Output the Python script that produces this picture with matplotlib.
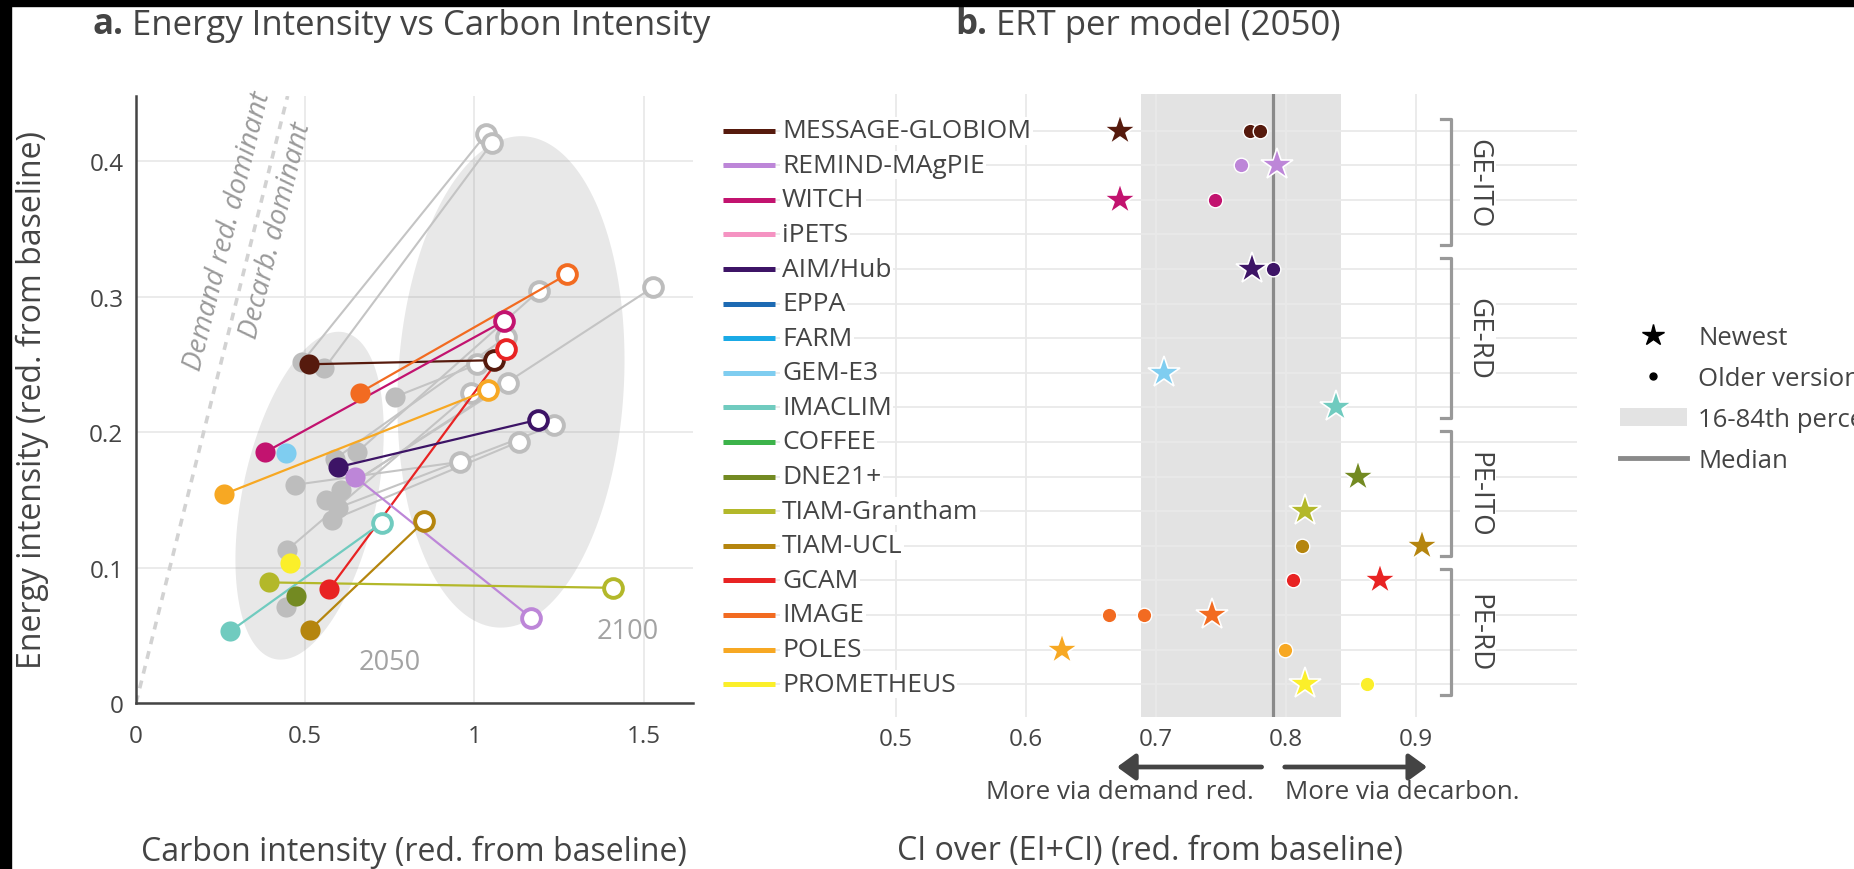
import numpy as np
import matplotlib
matplotlib.use("Agg")
import matplotlib.pyplot as plt
import matplotlib.transforms as mtransforms
from matplotlib.lines import Line2D
from matplotlib.patches import Patch, Rectangle, Polygon
from matplotlib.ticker import FixedLocator

plt.rcParams['font.family'] = ['Open Sans', 'DejaVu Sans']

nan = np.nan

# ---- panel b data: ERT per model (2050)
models = ['MESSAGE-GLOBIOM', 'REMIND-MAgPIE', 'WITCH', 'iPETS', 'AIM/Hub', 'EPPA',
          'FARM', 'GEM-E3', 'IMACLIM', 'COFFEE', 'DNE21+', 'TIAM-Grantham',
          'TIAM-UCL', 'GCAM', 'IMAGE', 'POLES', 'PROMETHEUS']
colors = ['#561a0d', '#bd86d8', '#c2136f', '#f593c2', '#3d1466', '#1d6ab3',
          '#1aaae6', '#7fcdf0', '#70cbbf', '#3cb34a', '#738a22', '#b3b82a',
          '#b5850e', '#e82323', '#f26b21', '#f7a823', '#fbef2a']
ert_newest = [0.6725, 0.793, 0.6725, nan, 0.774, nan, nan, 0.706, 0.8385, nan,
              0.855, 0.8146, 0.9045, 0.872, 0.743, 0.6274, 0.8146]
ert_older = [[0.772, 0.7796], [0.7652], [0.7452], [], [0.790], [], [], [], [], [],
             [], [], [0.8122], [0.8053], [0.6635, 0.691], [0.799], [0.862]]
ert_p16, ert_p84, ert_median = 0.6885, 0.842, 0.790

groups = ['GE-ITO', 'GE-RD', 'PE-ITO', 'PE-RD']
group_first = [0, 4, 9, 13]
group_last = [3, 8, 12, 16]

# ---- panel a data: reductions from baseline, 2050 (filled) and 2100 (open)
a_models = ['MESSAGE-GLOBIOM', 'IMAGE', 'WITCH', 'GCAM', 'POLES', 'AIM/Hub',
            'REMIND-MAgPIE', 'IMACLIM', 'TIAM-UCL', 'TIAM-Grantham', 'DNE21+',
            'GEM-E3', 'PROMETHEUS']
ci_2050 = [0.511, 0.661, 0.381, 0.571, 0.259, 0.596, 0.647, 0.279, 0.514, 0.393, 0.472, 0.443, 0.455]
ei_2050 = [0.250, 0.229, 0.185, 0.084, 0.154, 0.174, 0.167, 0.053, 0.054, 0.089, 0.079, 0.1845, 0.103]
ci_2100 = [1.057, 1.275, 1.088, 1.094, 1.040, 1.187, 1.167, 0.726, 0.851, 1.411, nan, nan, nan]
ei_2100 = [0.253, 0.3165, 0.282, 0.261, 0.231, 0.209, 0.063, 0.133, 0.134, 0.085, nan, nan, nan]

# older model versions (grey)
old_ci_2050 = [0.492, 0.557, 0.766, 0.653, 0.607, 0.469, 0.587, 0.562, 0.596, 0.579, 0.447, 0.444]
old_ei_2050 = [0.252, 0.247, 0.226, 0.185, 0.157, 0.161, 0.180, 0.150, 0.144, 0.135, 0.113, 0.071]
old_ci_2100 = [1.035, 1.051, 1.009, 1.190, 1.529, 0.958, 1.094, 1.100, 1.235, 1.133, 0.990, nan]
old_ei_2100 = [0.420, 0.413, 0.250, 0.304, 0.307, 0.178, 0.270, 0.236, 0.205, 0.193, 0.229, nan]

# cloud ellipses: centre (data), semi axes (px), angle (deg)
ell_labels = ['2050', '2100']
ell_center = [(0.513, 0.153), (1.108, 0.237)]
ell_axes = [(167, 67), (246, 113)]
ell_angle = [78, 87]
ell_text_pos = [(0.749, 0.030), (1.454, 0.053)]

W, H = 1854, 870
TXT = '#444444'


def px_box(l, t, r, b):
    return [l / W, 1 - b / H, (r - l) / W, (b - t) / H]


fig = plt.figure(figsize=(W / 100, H / 100), dpi=100)
fig.patch.set_facecolor('white')

# ================= panel a =================
ax1 = fig.add_axes(px_box(136, 97, 693, 704))
ax1.set_xlim(0, 1.646)
ax1.set_ylim(0, 0.448)
ax1.set_axisbelow(True)
ax1.grid(True, color='#e9e9e9', lw=1.3)
for s in ['top', 'right']:
    ax1.spines[s].set_visible(False)
for s in ['left', 'bottom']:
    ax1.spines[s].set_color(TXT)
    ax1.spines[s].set_linewidth(1.8)
ax1.set_xticks([0, 0.5, 1, 1.5])
ax1.set_xticklabels(['0', '0.5', '1', '1.5'])
ax1.set_yticks([0, 0.1, 0.2, 0.3, 0.4])
ax1.set_yticklabels(['0', '0.1', '0.2', '0.3', '0.4'])
ax1.tick_params(which='major', length=0, labelsize=17.5, labelcolor=TXT)
ax1.tick_params(axis='x', pad=15)
ax1.tick_params(axis='y', pad=9)
ax1.xaxis.set_minor_locator(FixedLocator([0]))
ax1.yaxis.set_minor_locator(FixedLocator([0]))
ax1.tick_params(which='minor', length=8, width=1.8, color=TXT)

# pixel scale of data units
sx = ax1.transData.transform((1, 0))[0] - ax1.transData.transform((0, 0))[0]
sy = ax1.transData.transform((0, 1))[1] - ax1.transData.transform((0, 0))[1]

t = np.linspace(0, 2 * np.pi, 200)
for (cx, cy), (a, b), ang in zip(ell_center, ell_axes, ell_angle):
    th = np.radians(ang)
    u, v = a * np.cos(t), b * np.sin(t)
    ex = cx + (u * np.cos(th) - v * np.sin(th)) / sx
    ey = cy + (u * np.sin(th) + v * np.cos(th)) / sy
    ax1.add_patch(Polygon(np.column_stack([ex, ey]), closed=True, fc='#808080',
                          alpha=0.18, ec='none', zorder=1))
for lab, (tx, ty) in zip(ell_labels, ell_text_pos):
    ax1.text(tx, ty, lab, ha='center', va='center', fontsize=19.5, color='#a3a3a3', zorder=2)

# y = x separation line
diag = np.array([0, 0.448])
ax1.plot(diag, diag, color='#d2d2d2', lw=2.6, ls=(0, (2.2, 2)), zorder=1.5)
p0 = ax1.transData.transform((0, 0))
p1 = ax1.transData.transform((1, 1))
diag_ang = np.degrees(np.arctan2(p1[1] - p0[1], p1[0] - p0[0]))
ax1.text(0.273, 0.349, 'Demand red. dominant', rotation=diag_ang, ha='center', va='center',
         fontsize=20, color='#9a9a9a', style='italic', rotation_mode='anchor')
ax1.text(0.415, 0.349, 'Decarb. dominant', rotation=diag_ang, ha='center', va='center',
         fontsize=20, color='#9a9a9a', style='italic', rotation_mode='anchor')

grey = '#bdbdbd'
for x0, y0, x1, y1 in zip(old_ci_2050, old_ei_2050, old_ci_2100, old_ei_2100):
    if not np.isnan(x1):
        ax1.plot([x0, x1], [y0, y1], color='#c4c4c4', lw=1.5, zorder=2)
        ax1.plot(x1, y1, 'o', ms=13.5, mfc='white', mec=grey, mew=2.8, zorder=3)
    ax1.plot(x0, y0, 'o', ms=14.5, mfc=grey, mec='none', zorder=3)

col_of = dict(zip(models, colors))
for m, x0, y0, x1, y1 in zip(a_models, ci_2050, ei_2050, ci_2100, ei_2100):
    c = col_of[m]
    if not np.isnan(x1):
        ax1.plot([x0, x1], [y0, y1], color=c, lw=1.6, zorder=4)
        ax1.plot(x1, y1, 'o', ms=13.5, mfc='white', mec=c, mew=2.8, zorder=5)
    ax1.plot(x0, y0, 'o', ms=14.5, mfc=c, mec='none', zorder=5)

fig.text(414 / W, 1 - 852 / H, 'Carbon intensity (red. from baseline)', ha='center',
         va='center', fontsize=23, color=TXT)
fig.text(32 / W, 1 - 400 / H, 'Energy intensity (red. from baseline)', ha='center',
         va='center', rotation=90, fontsize=23, color=TXT)

ta = fig.text(92 / W, 1 - 34 / H, 'a.', fontsize=25, weight='bold', color=TXT, va='baseline')
ax1.annotate(' Energy Intensity vs Carbon Intensity', xy=(1, 0), xycoords=ta,
             va='bottom', ha='left', fontsize=25, color=TXT, annotation_clip=False)

# ================= panel b =================
ax2 = fig.add_axes(px_box(723, 95, 1577, 718))
ax2.set_xlim(0.3669, 1.0238)
ax2.set_ylim(16.95, -1.06)
ax2.set_axisbelow(True)
ax2.set_xticks([0.5, 0.6, 0.7, 0.8, 0.9])
ax2.set_xticklabels(['0.5', '0.6', '0.7', '0.8', '0.9'])
ax2.set_yticks(range(len(models)))
ax2.set_yticklabels([])
ax2.grid(True, color='#e9e9e9', lw=1.3)
ax2.tick_params(length=0, labelsize=17.5, labelcolor=TXT, pad=7)
for s in ax2.spines.values():
    s.set_visible(False)

ax2.axvspan(ert_p16, ert_p84, color='#e3e3e3', lw=0, zorder=0.2)
ax2.axvline(ert_median, color='#8a8a8a', lw=2.3, zorder=1.5)

lab_tr = mtransforms.blended_transform_factory(ax2.transAxes, ax2.transData)
for i, (m, c) in enumerate(zip(models, colors)):
    ax2.plot([0, 0.061], [i, i], transform=lab_tr, color=c, lw=3.6,
             solid_capstyle='butt', clip_on=False, zorder=3)
    ax2.text(0.069, i, m, transform=lab_tr, ha='left', va='center', fontsize=19,
             color=TXT, zorder=3, bbox=dict(fc='white', ec='none', pad=1.2))
    if ert_older[i]:
        ax2.plot(ert_older[i], [i] * len(ert_older[i]), 'o', ms=10.5, mfc=c, mec='white',
                 mew=1, zorder=4)
    if not np.isnan(ert_newest[i]):
        ax2.plot(ert_newest[i], i, '*', ms=24, mfc=c, mec='white', mew=1.2, zorder=5)

# model type brackets
bx_in, bx_out, bx_text = 0.9192, 0.9269, 0.9475
for g, f, l in zip(groups, group_first, group_last):
    top, bot = f - 0.33, l + 0.3
    ax2.plot([bx_in, bx_out, bx_out, bx_in], [top, top, bot, bot], color='#999999',
             lw=2.3, zorder=3)
    ax2.text(bx_text, (f + l) / 2, g, rotation=-90, ha='center', va='center', fontsize=20,
             color=TXT, zorder=3, bbox=dict(fc='white', ec='none', pad=3))

# direction arrows below axis
arr_tr = mtransforms.blended_transform_factory(ax2.transData, fig.transFigure)
ay = 1 - 768 / H
for xs, xe in [(0.7812, 0.670), (0.799, 0.9085)]:
    ax2.annotate('', xy=(xe, ay), xytext=(xs, ay), xycoords=arr_tr, textcoords=arr_tr,
                 annotation_clip=False,
                 arrowprops=dict(arrowstyle='-|>,head_length=1.1,head_width=0.8',
                                 mutation_scale=10, color='#444444', lw=3.4,
                                 shrinkA=0, shrinkB=0))
ax2.text(0.7754, 1 - 793 / H, 'More via demand red.', transform=arr_tr, ha='right',
         va='center', fontsize=18.7, color=TXT)
ax2.text(0.799, 1 - 793 / H, 'More via decarbon.', transform=arr_tr, ha='left',
         va='center', fontsize=18.7, color=TXT)

fig.text(1150 / W, 1 - 852 / H, 'CI over (EI+CI) (red. from baseline)', ha='center',
         va='center', fontsize=23, color=TXT)

tb = fig.text(955 / W, 1 - 34 / H, 'b.', fontsize=25, weight='bold', color=TXT, va='baseline')
ax2.annotate(' ERT per model (2050)', xy=(1, 0), xycoords=tb, va='bottom', ha='left',
             fontsize=25, color=TXT, annotation_clip=False)

# legend on the right
handles = [Line2D([], [], marker='*', ls='none', color='black', ms=16),
           Line2D([], [], marker='o', ls='none', color='black', ms=5),
           Patch(fc='#e3e3e3', ec='none'),
           Line2D([], [], color='#8a8a8a', lw=3.5)]
fig.legend(handles, ['Newest', 'Older versions', '16-84th percentile', 'Median'],
           loc='upper left', bbox_to_anchor=(1620 / W, 1 - 326 / H), frameon=False,
           fontsize=18.5, labelcolor=TXT, handlelength=2.6, handletextpad=0.45,
           labelspacing=0.62, borderpad=0, borderaxespad=0)

# dark frame strips seen at the edges of the source image
fig.add_artist(Rectangle((0, 0), 11 / W, 1, transform=fig.transFigure, color='black', zorder=10))
fig.add_artist(Rectangle((0, 1 - 7 / H), 1, 7 / H, transform=fig.transFigure, color='black', zorder=10))

fig.savefig('out.png', dpi=100)
